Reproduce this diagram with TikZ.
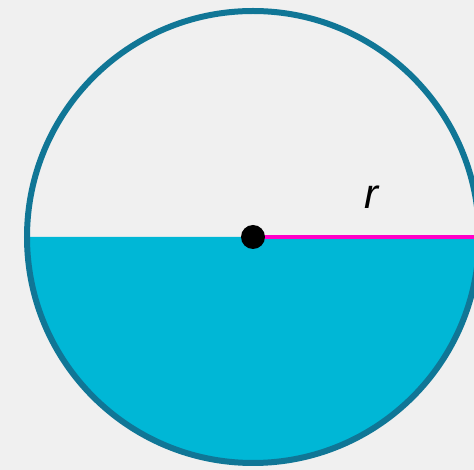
\documentclass[tikz,border=0pt]{standalone}
\usepackage{fontspec}
\setmainfont{Liberation Sans}
\definecolor{bgGray}{RGB}{240,240,240}
\definecolor{rimTeal}{RGB}{16,118,150}
\definecolor{waterCyan}{RGB}{0,183,214}
\definecolor{radPink}{RGB}{255,0,200}
\begin{document}
\begin{tikzpicture}[x=1pt,y=1pt,line cap=round,line join=round]
\useasboundingbox (-253,-233) rectangle (221,237);
\clip (-253,-233) rectangle (221,237);
\fill[bgGray] (-253,-233) rectangle (221,237);
\coordinate (c) at (0,0);
\coordinate (e) at (221,0);
\fill[waterCyan] (-226,0) arc[start angle=180,end angle=360,radius=226] -- cycle;
\draw[radPink,line width=4.5pt,line cap=butt] (c) -- (e);
\draw[rimTeal,line width=6pt] (c) circle (226pt);
\node[circle,fill=black,inner sep=0pt,minimum size=24pt] (dot) at (c) {};
\node[font=\fontsize{42}{46}\selectfont\itshape] (r) at (118,40) {r};
\end{tikzpicture}
\end{document}
